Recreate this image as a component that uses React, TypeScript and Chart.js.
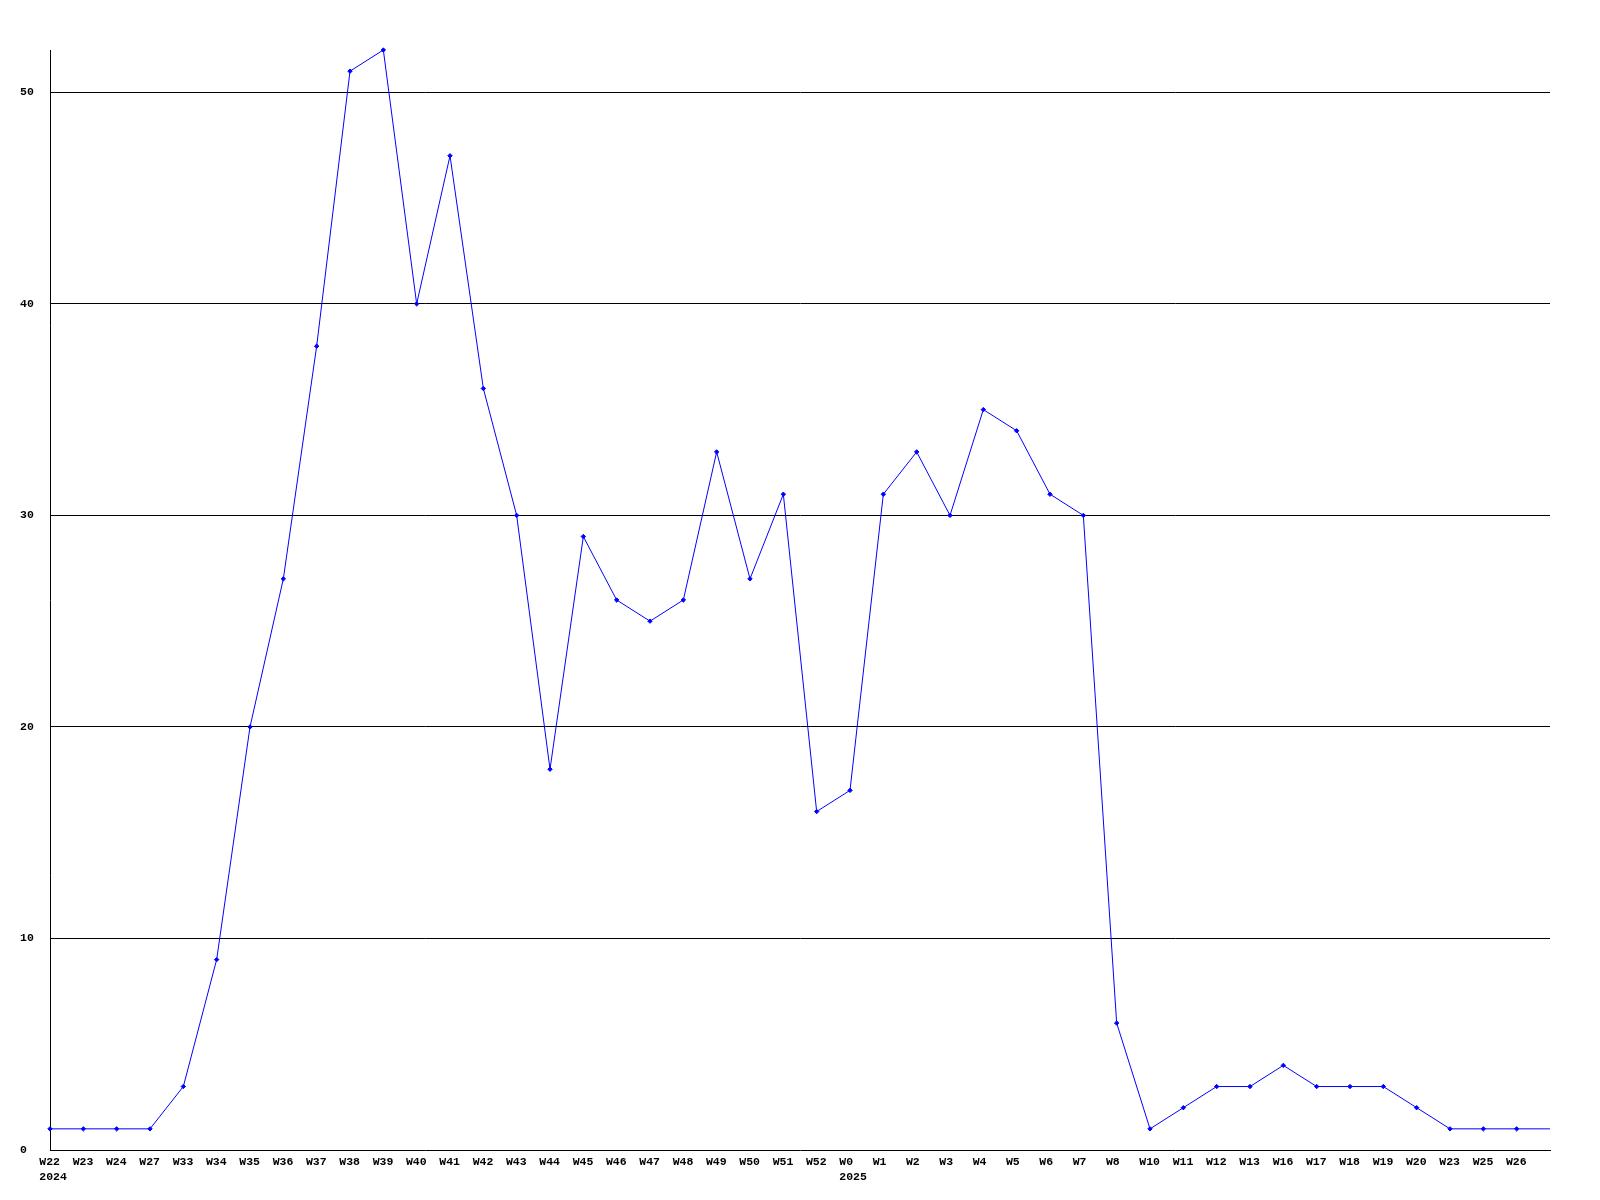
import React, { useEffect, useRef } from "react";
import { Chart, registerables } from "chart.js";

Chart.register(...registerables);

// Week categories (the last empty slot is where the line runs out to the axis end)
const weeks: string[] = [
  "W22", "W23", "W24", "W27", "W33", "W34", "W35", "W36", "W37", "W38", "W39", "W40",
  "W41", "W42", "W43", "W44", "W45", "W46", "W47", "W48", "W49", "W50", "W51", "W52",
  "W0", "W1", "W2", "W3", "W4", "W5", "W6", "W7", "W8", "W10", "W11", "W12", "W13",
  "W16", "W17", "W18", "W19", "W20", "W23", "W25", "W26", "",
];

// Year captions shown under the first week of each year (index -> text)
const yearIndex: number[] = [0, 24];
const yearText: string[] = ["2024", "2025"];

const counts: number[] = [
  1, 1, 1, 1, 3, 9, 20, 27, 38, 51, 52, 40,
  47, 36, 30, 18, 29, 26, 25, 26, 33, 27, 31, 16,
  17, 31, 33, 30, 35, 34, 31, 30, 6, 1, 2, 3, 3,
  4, 3, 3, 3, 2, 1, 1, 1, 1,
];

const yMax = 52;
const yStep = 10;

const FONT_FAMILY = "'Liberation Mono', 'DejaVu Sans Mono', monospace";
const FONT = `bold 11.5px ${FONT_FAMILY}`;

// Draws the week labels (left-aligned a little before each tick) and the year captions
const xLabelPlugin = {
  id: "xLabels",
  afterDraw(chart: any) {
    const { ctx, scales } = chart;
    const x = scales.x;
    ctx.save();
    ctx.font = FONT;
    ctx.fillStyle = "#000";
    ctx.textAlign = "left";
    ctx.textBaseline = "middle";
    weeks.forEach((w, i) => {
      if (!w) return;
      const px = x.getPixelForValue(i);
      ctx.fillText(w, px - 10.7, x.top + 12.5);
    });
    yearIndex.forEach((idx, i) => {
      const px = x.getPixelForValue(idx);
      ctx.fillText(yearText[i], px - 10.7, x.top + 27);
    });
    ctx.restore();
  },
};

export default function App() {
  const ref = useRef<HTMLCanvasElement | null>(null);

  useEffect(() => {
    if (!ref.current) return;
    const lastIdx = counts.length - 1;
    const chart = new Chart(ref.current, {
      type: "line",
      data: {
        labels: weeks,
        datasets: [
          {
            data: counts,
            borderColor: "#0000ff",
            backgroundColor: "#0000ff",
            borderWidth: 1,
            pointStyle: "rectRot",
            pointRadius: counts.map((_, i) => (i === lastIdx ? 0 : 2.2)),
            pointBorderWidth: 1,
            pointBorderColor: "#0000ff",
            pointBackgroundColor: "#0000ff",
            tension: 0,
            fill: false,
            clip: false,
          },
        ],
      },
      options: {
        animation: false,
        responsive: false,
        maintainAspectRatio: false,
        layout: { padding: { left: 20, top: 50, right: 50, bottom: 0 } },
        plugins: { legend: { display: false }, tooltip: { enabled: false } },
        scales: {
          x: {
            type: "category",
            offset: false,
            grid: { display: false, drawTicks: false },
            border: { display: true, color: "#000", width: 1 },
            ticks: { display: false, autoSkip: false },
            afterFit(scale: any) {
              scale.height = 50;
            },
          },
          y: {
            min: 0,
            max: yMax,
            grid: {
              color: (c: any) => (c.tick && c.tick.value === 0 ? "rgba(0,0,0,0)" : "#000"),
              lineWidth: 1,
              drawTicks: false,
            },
            border: { display: true, color: "#000", width: 1 },
            ticks: {
              stepSize: yStep,
              includeBounds: false,
              crossAlign: "far",
              padding: 0,
              color: "#000",
              font: { family: FONT_FAMILY, size: 11.5, weight: "bold" },
            },
            afterFit(scale: any) {
              scale.width = 30;
            },
          },
        },
      },
      plugins: [xLabelPlugin],
    } as any);
    return () => chart.destroy();
  }, []);

  return (
    <div style={{ position: "fixed", left: 0, top: 0, width: 1600, height: 1200, background: "#fff" }}>
      <canvas ref={ref} width={1600} height={1200} style={{ width: 1600, height: 1200 }} />
    </div>
  );
}
